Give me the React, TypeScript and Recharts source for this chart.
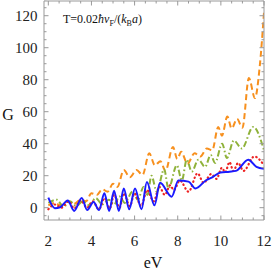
import { Line, LineChart, XAxis, YAxis } from "recharts";

const orangeX = [2.0, 2.3, 2.55, 2.9, 3.2, 3.5, 3.75, 4.0, 4.25, 4.5, 4.75, 5.0, 5.2, 5.5, 5.78, 6.09, 6.37, 6.68, 6.94, 7.2, 7.43, 7.78, 7.98, 8.16, 8.45, 8.78, 9.05, 9.35, 9.6, 9.88, 10.05, 10.3, 10.5, 10.75, 11.0, 11.3, 11.58, 11.8, 12.0];
const orangeY = [1.5, 3, 1.5, 4, 2.5, 5, 4, 9, 8, 11.5, 10, 15, 13, 23.5, 19, 23.5, 20.5, 34, 26.5, 29, 23, 38, 30.5, 35, 27.5, 34, 32, 37, 36, 50.5, 45, 57, 49.5, 55.5, 50, 81, 68.5, 88, 122];

const greenX = [2.0, 2.4, 2.7, 3.0, 3.3, 3.6, 3.9, 4.2, 4.5, 4.8, 5.05, 5.3, 5.55, 5.9, 6.15, 6.42, 6.6, 6.78, 7.03, 7.37, 7.57, 7.96, 8.19, 8.42, 8.65, 8.96, 9.27, 9.53, 9.73, 10.06, 10.28, 10.6, 10.97, 11.5, 12.0];
const greenY = [3, 5, 0.5, 4, 1, 4, 1.5, 6, 2, 5, 2, 7, 3, 10, 5, 13, 8, 20, 10, 24, 12, 26.5, 17, 30, 22.5, 30, 25.5, 33, 28, 40, 31, 42, 37, 50.5, 36];

const redX = [2.0, 2.3, 2.6, 2.95, 3.2, 3.5, 3.8, 4.05, 4.35, 4.6, 4.85, 5.05, 5.3, 5.5, 5.78, 6.0, 6.3, 6.58, 6.88, 7.15, 7.4, 7.65, 7.82, 8.1, 8.5, 8.92, 9.2, 9.55, 9.8, 10.05, 10.2, 10.4, 10.58, 10.8, 11.05, 11.55, 12.0];
const redY = [-1, 2, 0, 4, -0.5, 4.5, 0, 4, -1, 6, -0.5, 8, 0, 9, 1, 9, 1, 11, 4, 13, 8, 14, 11, 17, 10, 21.5, 15.5, 21, 18, 25, 22, 28.5, 23, 28, 23, 32, 26.5];

const blueX = [2.0, 2.3, 2.55, 2.9, 3.2, 3.55, 3.8, 4.1, 4.35, 4.6, 4.82, 5.05, 5.27, 5.5, 5.75, 6.02, 6.32, 6.57, 6.92, 7.18, 7.72, 8.03, 8.5, 8.82, 9.3, 9.6, 9.98, 10.4, 10.7, 11.27, 11.65, 12.0];
const blueY = [6.3, -0.3, 0.3, 4.5, -2, 6, -1.5, 3.5, -1.5, 9, -2, 10.6, -2, 12, -1, 12, -1, 16, 1.5, 15.6, 6.9, 17, 16.3, 12, 17, 19, 22, 22.5, 23, 30, 25.5, 24.3];

const xMajor = [2, 4, 6, 8, 10, 12];
const yMajor = [0, 20, 40, 60, 80, 100, 120];

const frame = "#999999";
const serif = "Times New Roman, Liberation Serif, serif";

const pts = (xs: number[], ys: number[]) => xs.map((x, i) => ({ x, y: ys[i] }));

const xTicks = xMajor.flatMap((v) => [v, v + 0.5, v + 1, v + 1.5]).filter((v) => v <= 12);
const yTicks = [-5, ...yMajor.flatMap((v) => [v, v + 5, v + 10, v + 15])];

function BottomTick({ x, y, payload }: any) {
  const major = xMajor.includes(payload.value);
  return (
    <g>
      <line x1={x} x2={x} y1={y} y2={y - (major ? 4.5 : 2.5)} stroke={frame} />
      {major && (
        <text x={x} y={y + 26} textAnchor="middle" fontSize={15} fontFamily={serif} fill="#222">
          {payload.value}
        </text>
      )}
    </g>
  );
}

function TopTick({ x, y, payload }: any) {
  const major = xMajor.includes(payload.value);
  return <line x1={x} x2={x} y1={y} y2={y + (major ? 4.5 : 2.5)} stroke={frame} />;
}

function LeftTick({ x, y, payload }: any) {
  const major = yMajor.includes(payload.value);
  return (
    <g>
      <line x1={x} x2={x + (major ? 4.5 : 2.5)} y1={y} y2={y} stroke={frame} />
      {major && (
        <text x={x - 6.5} y={y + 5} textAnchor="end" fontSize={15} fontFamily={serif} fill="#222">
          {payload.value}
        </text>
      )}
    </g>
  );
}

function RightTick({ x, y, payload }: any) {
  const major = yMajor.includes(payload.value);
  return <line x1={x} x2={x - (major ? 4.5 : 2.5)} y1={y} y2={y} stroke={frame} />;
}

export default function App() {
  return (
    <div style={{ position: "absolute", left: 0, top: 0, background: "#fff" }}>
      <LineChart width={272} height={271} margin={{ top: 0, right: 7, left: 0, bottom: 0 }}>
        <XAxis dataKey="x" type="number" domain={[1.8, 12]} allowDataOverflow ticks={xTicks} interval={0}
          height={51} tickSize={0} tickMargin={0} tickLine={false} axisLine={{ stroke: frame }} tick={<BottomTick />} />
        <XAxis xAxisId="top" orientation="top" dataKey="x" type="number" domain={[1.8, 12]} allowDataOverflow ticks={xTicks} interval={0}
          height={1} tickSize={0} tickMargin={0} tickLine={false} axisLine={{ stroke: frame }} tick={<TopTick />} />
        <YAxis type="number" domain={[-7.7, 129.2]} allowDataOverflow ticks={yTicks} interval={0}
          width={44} tickSize={0} tickMargin={0} tickLine={false} axisLine={{ stroke: frame }} tick={<LeftTick />} />
        <YAxis yAxisId="right" orientation="right" type="number" domain={[-7.7, 129.2]} allowDataOverflow ticks={yTicks} interval={0}
          width={1} tickSize={0} tickMargin={0} tickLine={false} axisLine={{ stroke: frame }} tick={<RightTick />} />

        <Line data={pts(orangeX, orangeY)} dataKey="y" type="monotone" stroke="#f7901e" strokeWidth={2}
          strokeDasharray="6 3.5" dot={false} isAnimationActive={false} />
        <Line data={pts(greenX, greenY)} dataKey="y" type="monotone" stroke="#8fb23a" strokeWidth={2}
          strokeDasharray="6 2.5 1.5 2.5" dot={false} isAnimationActive={false} />
        <Line data={pts(redX, redY)} dataKey="y" type="monotone" stroke="#ee2222" strokeWidth={2.2}
          strokeDasharray="0.5 3.5" strokeLinecap="round" dot={false} isAnimationActive={false} />
        <Line data={pts(blueX, blueY)} dataKey="y" type="monotone" stroke="#1a1aff" strokeWidth={2}
          dot={false} isAnimationActive={false} />

        <text x={63} y={23} fontSize={12} fontFamily={serif} fill="#111">
          T=0.02<tspan fontStyle="italic">ħv</tspan>
          <tspan fontSize={8} dy={3}>F</tspan>
          <tspan dy={-3}>/(</tspan>
          <tspan fontStyle="italic">k</tspan>
          <tspan fontSize={8} dy={3}>B</tspan>
          <tspan dy={-3} fontStyle="italic">a</tspan>)
        </text>
        <text x={8} y={120} textAnchor="middle" fontSize={16} fontFamily={serif} fill="#111">G</text>
        <text x={153} y={268} textAnchor="middle" fontSize={16} fontFamily={serif} fill="#111">eV</text>
      </LineChart>
    </div>
  );
}
